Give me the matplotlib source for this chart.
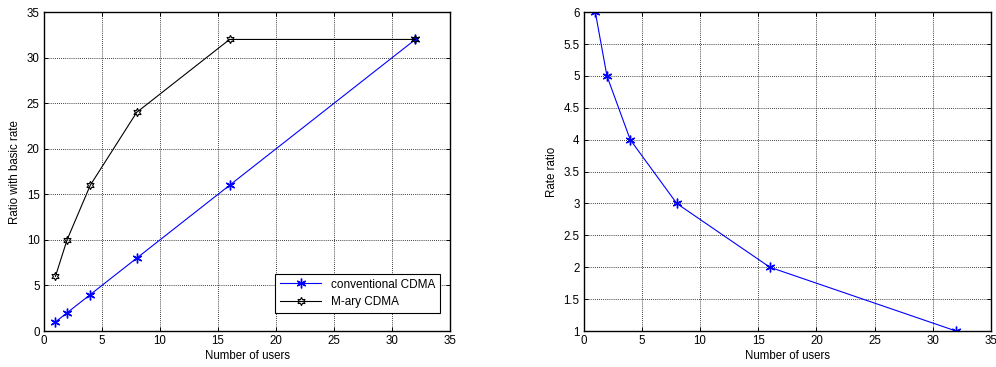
import matplotlib.pyplot as plt
import numpy as np

plt.rcParams['font.family'] = ['Liberation Sans', 'DejaVu Sans']
plt.rcParams['font.size'] = 8.3

users = [1, 2, 4, 8, 16, 32]
conv_ratio = [1, 2, 4, 8, 16, 32]
mary_ratio = [6, 10, 16, 24, 32, 32]
rate_ratio = [6, 5, 4, 3, 2, 1]

fig = plt.figure(figsize=(9.96, 3.67), dpi=100)
ax1 = fig.add_axes([0.044, 0.098, 0.408, 0.869])
ax2 = fig.add_axes([0.586, 0.098, 0.409, 0.869])

asterisk = (6, 2, 0)
hexagram = (6, 1, 0)


def style(ax):
    ax.grid(True, color='k', linestyle=(0, (1, 1.5)), linewidth=0.6)
    ax.tick_params(direction='in', length=3, width=0.7, top=True, right=True, pad=3)
    for s in ax.spines.values():
        s.set_linewidth(1.0)
    ax.set_xlim(0, 35)
    ax.set_xticks(np.arange(0, 36, 5))
    ax.set_xlabel('Number of users', labelpad=2)


ax1.plot(users, conv_ratio, color='b', marker=asterisk, markersize=7, markeredgewidth=1.0,
         linewidth=0.8, label='conventional CDMA')
ax1.plot(users, mary_ratio, color='k', marker=hexagram, markersize=6, markerfacecolor='none',
         markeredgewidth=0.8, linewidth=0.8, label='M-ary CDMA')
style(ax1)
ax1.set_ylim(0, 35)
ax1.set_yticks(np.arange(0, 36, 5))
ax1.set_ylabel('Ratio with basic rate', labelpad=4)
leg = ax1.legend(loc='lower right', bbox_to_anchor=(0.975, 0.056), borderaxespad=0,
                 fancybox=False, edgecolor='k', framealpha=1,
                 handlelength=3.5, fontsize=8.5)
leg.get_frame().set_linewidth(0.8)

ax2.plot(users, rate_ratio, color='b', marker=asterisk, markersize=7, markeredgewidth=1.0,
         linewidth=0.8)
style(ax2)
ax2.set_ylim(1, 6)
ax2.set_yticks(np.arange(1, 6.01, 0.5))
ax2.set_yticklabels(['1', '1.5', '2', '2.5', '3', '3.5', '4', '4.5', '5', '5.5', '6'])
ax2.set_ylabel('Rate ratio', labelpad=4)

fig.savefig('out.png', dpi=100)
